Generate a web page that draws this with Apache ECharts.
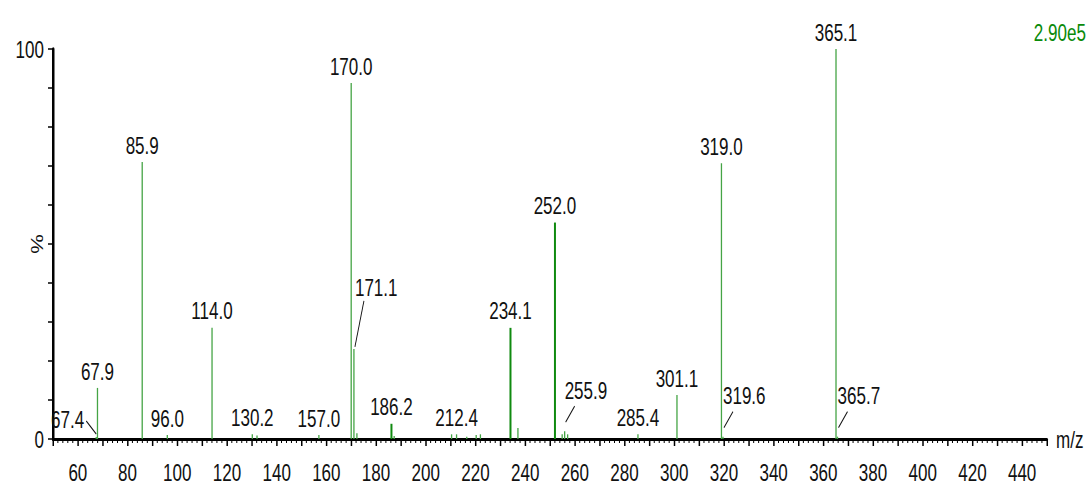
<!DOCTYPE html>
<html>
<head>
<meta charset="utf-8">
<script src="https://cdn.jsdelivr.net/npm/echarts@6/dist/echarts.min.js"></script>
<style>
  html, body { margin: 0; padding: 0; background: #fff; overflow: hidden; }
  #frame { width: 1092px; height: 488px; overflow: hidden; position: relative; }
  /* the chart is laid out wider and squeezed horizontally, giving the narrow instrument lettering */
  #chart { width: 1538px; height: 488px; transform: scaleX(0.71); transform-origin: 0 0; position: absolute; left: 0; top: 0; }
</style>
</head>
<body>
<div id="frame"><div id="chart"></div></div>
<script>
// Mass spectrum: m/z positions and relative intensity (% of base peak)
const labelledMz  = [67.4, 67.9, 85.9, 96.0, 114.0, 130.2, 157.0, 170.0, 171.1, 186.2, 212.4, 234.1, 252.0, 255.9, 285.4, 301.1, 319.0, 319.6, 365.1, 365.7];
const labelledPct = [0.5, 13.1, 71.0, 1.0, 28.5, 1.2, 1.0, 91.3, 23.1, 3.9, 1.2, 28.5, 55.5, 2.0, 1.2, 11.3, 70.7, 0.6, 100, 0.6];
// smaller, unlabelled ions
const minorMz  = [132.1, 172.3, 187.3, 210.4, 216.5, 220.3, 222.0, 237.1, 254.9, 257.1];
const minorPct = [0.9, 1.5, 0.8, 1.2, 0.6, 1.0, 1.2, 2.8, 1.2, 1.2];

const xTicks = { min: 50, max: 450, step: 10, labelStep: 20 };
const yTicks = { min: 0, max: 100, step: 10 };
const baseIntensity = '2.90e5';

const SX = 0.71;               // horizontal squeeze applied to the whole chart
const px = v => v / SX;        // horizontal screen pixels -> layout pixels

// labels drawn beside the peak with a short leader line (screen-pixel offsets from peak top)
const leaderLayout = {
  '67.4':  { tx: -12, ty: -18, align: 'right', l: [-10, -16, 0, -3] },
  '171.1': { tx: 1,   ty: -62, align: 'left',  l: [10, -48, 1, -2] },
  '255.9': { tx: 0,   ty: -41, align: 'left',  l: [10, -25, 1, -9] },
  '319.6': { tx: 0,   ty: -41, align: 'left',  l: [10, -25, 1, -9] },
  '365.7': { tx: 0,   ty: -41, align: 'left',  l: [10, -25, 1, -9] }
};
const heavyPeaks = ['186.2', '234.1', '252.0'];

const FONT = "'Liberation Sans', Arial, sans-serif";
const FS = 24;
const LINE_GREEN = '#45a445';
const DARK_GREEN = '#108a10';

const peaks = labelledMz.map((m, i) => [m, labelledPct[i], 1])
  .concat(minorMz.map((m, i) => [m, minorPct[i], 0]));

function renderPeak(params, api) {
  const mz = api.value(0);
  const pct = api.value(1);
  const labelled = api.value(2) === 1;
  const base = api.coord([mz, 0]);
  const top = api.coord([mz, pct]);
  const key = mz.toFixed(1);
  const heavy = labelled && heavyPeaks.indexOf(key) >= 0;
  const children = [{
    type: 'line',
    shape: { x1: base[0], y1: base[1], x2: top[0], y2: top[1] },
    style: { stroke: heavy ? DARK_GREEN : LINE_GREEN, lineWidth: px(heavy ? 2 : 1.3) }
  }];
  if (labelled) {
    const lay = leaderLayout[key];
    if (lay) {
      children.push({
        type: 'line',
        shape: { x1: top[0] + px(lay.l[0]), y1: top[1] + lay.l[1], x2: top[0] + px(lay.l[2]), y2: top[1] + lay.l[3] },
        style: { stroke: '#111', lineWidth: 1.3 }
      });
      children.push({
        type: 'text',
        style: {
          text: key, x: top[0] + px(lay.tx), y: top[1] + lay.ty,
          align: lay.align, verticalAlign: 'middle',
          fill: '#111', fontSize: FS, fontFamily: FONT
        }
      });
    } else {
      children.push({
        type: 'text',
        style: {
          text: key, x: top[0], y: top[1] - 5,
          align: 'center', verticalAlign: 'bottom',
          fill: '#111', fontSize: FS, fontFamily: FONT
        }
      });
    }
  }
  return { type: 'group', children: children };
}

const chart = echarts.init(document.getElementById('chart'), null, { renderer: 'svg' });
chart.setOption({
  animation: false,
  backgroundColor: '#ffffff',
  grid: { left: px(53), right: px(45), top: 49, bottom: 49, containLabel: false, outerBoundsMode: 'none' },
  xAxis: {
    type: 'value',
    min: xTicks.min, max: xTicks.max, interval: xTicks.step,
    name: 'm/z', nameLocation: 'end', nameGap: px(9),
    nameTextStyle: { color: '#111', fontSize: FS, fontFamily: FONT, verticalAlign: 'middle' },
    axisLine: { show: true, onZero: false, lineStyle: { color: '#000', width: 3 } },
    axisTick: { show: true, inside: false, length: 7, lineStyle: { color: '#000', width: px(1.5) } },
    minorTick: { show: true, splitNumber: 5, length: 4, lineStyle: { color: '#000', width: px(1) } },
    splitLine: { show: false },
    axisLabel: {
      color: '#111', fontSize: FS, fontFamily: FONT, margin: 21,
      formatter: v => (v % xTicks.labelStep === 0 && v !== xTicks.min ? String(v) : '')
    }
  },
  yAxis: {
    type: 'value',
    min: yTicks.min, max: yTicks.max, interval: yTicks.step,
    name: '%', nameLocation: 'middle', nameGap: px(8), nameRotate: 90, nameMoveOverlap: false,
    nameTextStyle: { color: '#111', fontSize: 22, fontFamily: FONT },
    axisLine: { show: true, lineStyle: { color: '#000', width: px(2.5) } },
    axisTick: { show: true, inside: false, length: px(5), lineStyle: { color: '#000', width: 1.5 } },
    splitLine: { show: false },
    axisLabel: {
      color: '#111', fontSize: FS, fontFamily: FONT, margin: px(9),
      formatter: v => (v === yTicks.min || v === yTicks.max ? String(v) : '')
    }
  },
  graphic: [{
    type: 'text', right: px(6), top: 20,
    style: { text: baseIntensity, fill: '#0a8a0a', fontSize: FS, fontFamily: FONT }
  }],
  series: [{
    type: 'custom',
    renderItem: renderPeak,
    data: peaks,
    encode: { x: 0, y: 1 },
    clip: false
  }]
});
</script>
</body>
</html>
